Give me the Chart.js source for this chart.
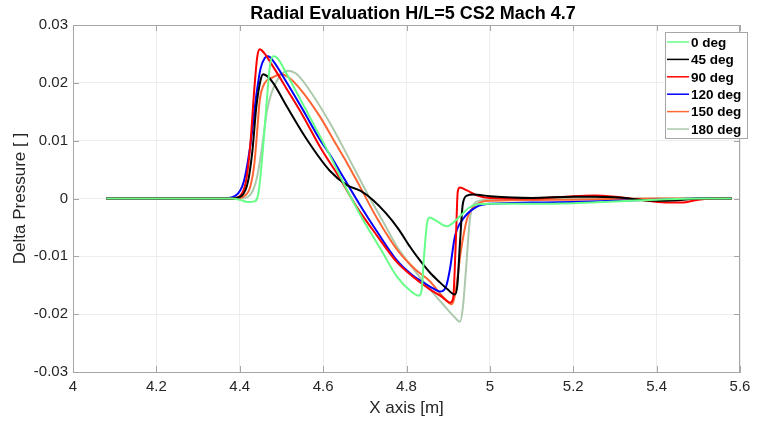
<!DOCTYPE html>
<html>
<head>
<meta charset="utf-8">
<script src="https://cdn.jsdelivr.net/npm/chart.js@4/dist/chart.umd.min.js"></script>
<style>
  html, body { margin: 0; padding: 0; background: #fff; }
  #wrap { width: 761px; height: 423px; }
</style>
</head>
<body>
<div id="wrap"><canvas id="chart" width="761" height="423"></canvas></div>
<script>
// data, one x/y pair of arrays per angle
const deg0X = [4.08, 4.38, 4.40, 4.42, 4.435, 4.445, 4.455, 4.465, 4.472, 4.48, 4.49, 4.513, 4.55, 4.609, 4.65, 4.695, 4.74, 4.777, 4.81, 4.83, 4.836, 4.842, 4.85, 4.856, 4.87, 4.897, 4.915, 4.928, 4.95, 4.97, 5.0, 5.1, 5.2, 5.3, 5.4, 5.5, 5.58];
const deg0Y = [0, 0, -0.0002, -0.0006, -0.0005, 0.001, 0.008, 0.017, 0.0228, 0.0246, 0.0243, 0.0215, 0.0165, 0.0085, 0.0025, -0.0036, -0.009, -0.0135, -0.016, -0.0168, -0.016, -0.01, -0.004, -0.0033, -0.0038, -0.0048, -0.004, -0.0031, -0.0016, -0.001, -0.0009, -0.0009, -0.0008, -0.0005, -0.0002, 0, 0];

const deg45X = [4.08, 4.38, 4.405, 4.42, 4.43, 4.44, 4.45, 4.456, 4.465, 4.48, 4.513, 4.561, 4.616, 4.657, 4.69, 4.72, 4.75, 4.78, 4.808, 4.83, 4.856, 4.88, 4.897, 4.916, 4.922, 4.928, 4.935, 4.945, 4.96, 5.0, 5.1, 5.2, 5.25, 5.3, 5.4, 5.45, 5.5, 5.58];
const deg45Y = [0, 0, 0.0005, 0.003, 0.008, 0.016, 0.0205, 0.0215, 0.0212, 0.02, 0.0159, 0.0102, 0.0048, 0.0023, 0.0013, -0.0003, -0.0025, -0.0052, -0.0083, -0.0105, -0.0128, -0.0145, -0.0156, -0.0166, -0.015, -0.008, -0.001, 0.0005, 0.0007, 0.0004, 0.0001, 0.0003, 0.0003, 0.0002, -0.0004, -0.0003, 0, 0];

const deg90X = [4.08, 4.38, 4.40, 4.415, 4.425, 4.435, 4.442, 4.448, 4.458, 4.48, 4.513, 4.55, 4.592, 4.64, 4.68, 4.73, 4.777, 4.82, 4.856, 4.885, 4.905, 4.912, 4.918, 4.923, 4.928, 4.945, 4.97, 5.0, 5.1, 5.2, 5.25, 5.3, 5.36, 5.42, 5.46, 5.5, 5.54, 5.58];
const deg90Y = [0, 0, 0.0004, 0.003, 0.009, 0.019, 0.0245, 0.0258, 0.0252, 0.0228, 0.0189, 0.0145, 0.009, 0.0035, -0.0014, -0.0065, -0.011, -0.0138, -0.0157, -0.017, -0.018, -0.0172, -0.008, 0.0012, 0.0019, 0.0014, 0.0005, 0.0001, 0, 0.0004, 0.0005, 0.0003, -0.0002, -0.0007, -0.0007, -0.0002, 0, 0];

const deg120X = [4.08, 4.36, 4.39, 4.41, 4.425, 4.44, 4.45, 4.46, 4.468, 4.48, 4.513, 4.55, 4.592, 4.616, 4.65, 4.695, 4.73, 4.776, 4.81, 4.84, 4.865, 4.88, 4.895, 4.904, 4.916, 4.935, 4.969, 5.0, 5.1, 5.2, 5.3, 5.4, 5.5, 5.58];
const deg120Y = [0, 0, 0.0005, 0.003, 0.009, 0.018, 0.0225, 0.0243, 0.0246, 0.0238, 0.02, 0.0155, 0.0102, 0.0076, 0.0035, -0.0019, -0.0058, -0.0106, -0.013, -0.0145, -0.0156, -0.0161, -0.0152, -0.0123, -0.0066, -0.0036, -0.0014, -0.0009, -0.0007, -0.0006, -0.0004, -0.0002, 0, 0];

const deg150X = [4.08, 4.39, 4.41, 4.425, 4.435, 4.44, 4.448, 4.456, 4.48, 4.50, 4.52, 4.55, 4.592, 4.63, 4.657, 4.688, 4.73, 4.777, 4.82, 4.856, 4.885, 4.909, 4.918, 4.93, 4.945, 4.96, 4.976, 5.0, 5.2, 5.4, 5.58];
const deg150Y = [0, 0, 0.0004, 0.002, 0.006, 0.01, 0.017, 0.0194, 0.021, 0.0215, 0.0208, 0.0185, 0.0142, 0.0095, 0.0062, 0.0021, -0.0035, -0.0088, -0.0122, -0.0143, -0.0168, -0.0183, -0.016, -0.0093, -0.0036, -0.0015, -0.0007, -0.0004, -0.0002, 0, 0];

const deg180X = [4.08, 4.40, 4.42, 4.435, 4.445, 4.456, 4.465, 4.475, 4.49, 4.50, 4.516, 4.535, 4.56, 4.616, 4.66, 4.705, 4.74, 4.777, 4.82, 4.86, 4.89, 4.915, 4.928, 4.935, 4.943, 4.952, 4.96, 4.97, 5.0, 5.2, 5.58];
const deg180Y = [0, 0, 0.0003, 0.002, 0.005, 0.0102, 0.015, 0.018, 0.0205, 0.0215, 0.0221, 0.0216, 0.0195, 0.0131, 0.0072, 0.001, -0.0035, -0.0083, -0.0125, -0.016, -0.0185, -0.0205, -0.0213, -0.019, -0.012, -0.0036, -0.0012, -0.0005, -0.0002, 0, 0];

const seriesNames = ["0 deg", "45 deg", "90 deg", "120 deg", "150 deg", "180 deg"];
const seriesColors = ["#66ff88", "#000000", "#ff0000", "#0000ff", "#ff6633", "#adc9ad"];
const seriesX = [deg0X, deg45X, deg90X, deg120X, deg150X, deg180X];
const seriesY = [deg0Y, deg45Y, deg90Y, deg120Y, deg150Y, deg180Y];

const FONT = "'Liberation Sans', Arial, sans-serif";

function toPoints(xs, ys) {
  return xs.map((x, i) => ({ x: x, y: ys[i] }));
}

const datasets = seriesNames.map((name, i) => ({
  label: name,
  data: toPoints(seriesX[i], seriesY[i]),
  borderColor: seriesColors[i],
  backgroundColor: seriesColors[i],
  borderWidth: 2,
  pointRadius: 0,
  fill: false,
  cubicInterpolationMode: "monotone",
}));

// title, box with inward ticks around plot and legend box, matlab style
const decorations = {
  id: "decorations",
  afterDraw(chart) {
    const ctx = chart.ctx;
    const a = chart.chartArea;
    ctx.save();
    ctx.strokeStyle = "#a6a6a6";
    ctx.lineWidth = 1;
    ctx.strokeRect(a.left + 0.5, a.top + 0.5, a.right - a.left - 1, a.bottom - a.top);

    // inward ticks
    ctx.beginPath();
    chart.scales.x.ticks.forEach((t) => {
      const px = Math.round(chart.scales.x.getPixelForValue(t.value)) + 0.5;
      ctx.moveTo(px, a.bottom);
      ctx.lineTo(px, a.bottom - 6);
      ctx.moveTo(px, a.top);
      ctx.lineTo(px, a.top + 6);
    });
    chart.scales.y.ticks.forEach((t) => {
      const py = Math.round(chart.scales.y.getPixelForValue(t.value)) + 0.5;
      ctx.moveTo(a.left, py);
      ctx.lineTo(a.left + 6, py);
      ctx.moveTo(a.right, py);
      ctx.lineTo(a.right - 6, py);
    });
    ctx.stroke();

    ctx.fillStyle = "#000";
    ctx.font = "bold 18px " + FONT;
    ctx.textAlign = "center";
    ctx.textBaseline = "middle";
    ctx.fillText("Radial Evaluation H/L=5 CS2 Mach 4.7", 413, 14);

    // legend
    const bx = 665, by = 32, bw = 82, bh = 106;
    ctx.fillStyle = "#fff";
    ctx.fillRect(bx, by, bw, bh);
    ctx.strokeStyle = "#a6a6a6";
    ctx.strokeRect(bx + 0.5, by + 0.5, bw, bh);
    ctx.font = "bold 13.5px " + FONT;
    ctx.textAlign = "left";
    chart.data.datasets.forEach((ds, i) => {
      const y = 42 + i * 17.4;
      ctx.strokeStyle = ds.borderColor;
      ctx.lineWidth = 1.5;
      ctx.beginPath();
      ctx.moveTo(bx + 2, y);
      ctx.lineTo(bx + 24, y);
      ctx.stroke();
      ctx.fillStyle = "#000";
      ctx.fillText(ds.label, bx + 26, y + 1);
    });
    ctx.restore();
  },
};

new Chart(document.getElementById("chart").getContext("2d"), {
  type: "line",
  data: { datasets },
  options: {
    responsive: false,
    animation: false,
    layout: { padding: { top: 25, right: 21, left: 0, bottom: 0 } },
    plugins: {
      legend: { display: false },
      title: { display: false },
      tooltip: { enabled: false },
    },
    scales: {
      x: {
        type: "linear",
        min: 4,
        max: 5.6,
        afterFit: (scale) => { scale.height = 51; },
        ticks: {
          stepSize: 0.2,
          color: "#262626",
          font: { family: FONT, size: 15 },
          padding: 6,
          maxRotation: 0,
          callback: (v) => Number(v.toFixed(1)).toString(),
        },
        grid: { color: "#ededed", drawTicks: false },
        border: { color: "#a6a6a6" },
        title: {
          display: true,
          text: "X axis [m]",
          color: "#262626",
          font: { family: FONT, size: 17 },
          padding: { top: 0, bottom: 4 },
        },
      },
      y: {
        min: -0.03,
        max: 0.03,
        afterFit: (scale) => { scale.width = 73; },
        ticks: {
          stepSize: 0.01,
          color: "#262626",
          font: { family: FONT, size: 15 },
          padding: 5,
          callback: (v) => Number(v.toFixed(2)).toString(),
        },
        grid: { color: "#ededed", drawTicks: false },
        border: { color: "#a6a6a6" },
        title: {
          display: true,
          text: "Delta Pressure [ ]",
          color: "#262626",
          font: { family: FONT, size: 17 },
          padding: { top: 10, bottom: 0 },
        },
      },
    },
  },
  plugins: [decorations],
});
</script>
</body>
</html>
